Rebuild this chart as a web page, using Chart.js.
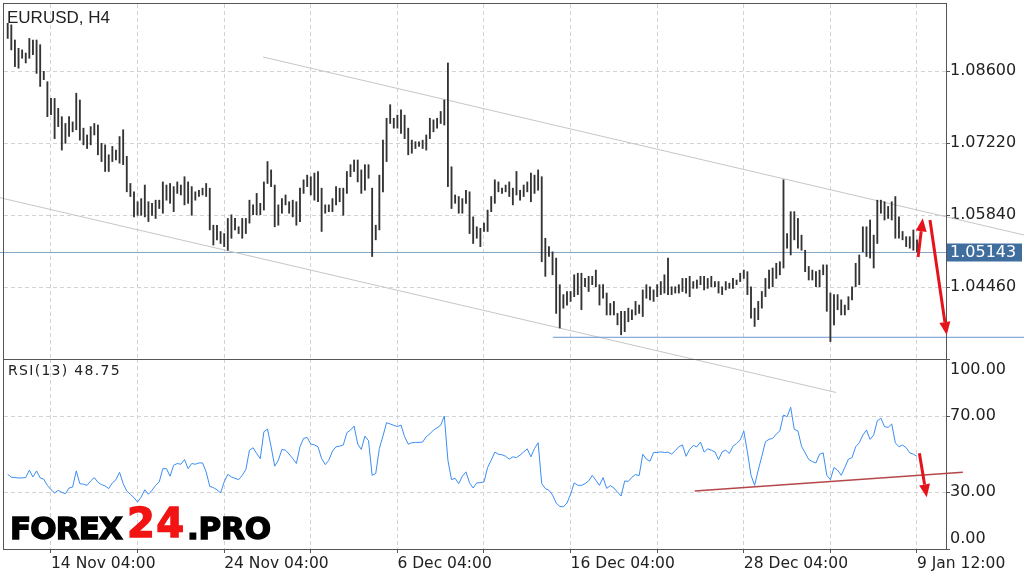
<!DOCTYPE html>
<html>
<head>
<meta charset="utf-8">
<title>EURUSD H4</title>
<script src="https://cdn.jsdelivr.net/npm/chart.js@4.4.0/dist/chart.umd.min.js"></script>
<style>
  html, body { margin: 0; padding: 0; background: #fff; }
  #wrap { position: relative; width: 1024px; height: 577px; }
  #wrap canvas { position: absolute; left: 0; top: 0; }
</style>
</head>
<body>
<div id="wrap">
  <canvas id="rsiChart" width="1024" height="577"></canvas>
  <canvas id="priceChart" width="1024" height="577"></canvas>
</div>
<script>
// H4 bars, index 0 = first bar on screen, 252 = 9 Jan 12:00
const highs = [
  1.0952, 1.0949, 1.0920, 1.0904, 1.0901, 1.0895, 1.0923, 1.0920, 1.0920, 1.0911,
  1.0860, 1.0840, 1.0808, 1.0808, 1.0789, 1.0773, 1.0760, 1.0773, 1.0763, 1.0818,
  1.0805, 1.0751, 1.0738, 1.0754, 1.0760, 1.0757, 1.0722, 1.0719, 1.0700, 1.0716,
  1.0709, 1.0735, 1.0748, 1.0697, 1.0645, 1.0629, 1.0610, 1.0616, 1.0642, 1.0610,
  1.0607, 1.0613, 1.0613, 1.0648, 1.0642, 1.0645, 1.0639, 1.0648, 1.0642, 1.0658,
  1.0648, 1.0639, 1.0629, 1.0632, 1.0636, 1.0645, 1.0636, 1.0565, 1.0565, 1.0553,
  1.0549, 1.0578, 1.0585, 1.0578, 1.0562, 1.0578, 1.0578, 1.0613, 1.0604, 1.0626,
  1.0607, 1.0648, 1.0687, 1.0671, 1.0642, 1.0604, 1.0616, 1.0623, 1.0610, 1.0613,
  1.0610, 1.0636, 1.0652, 1.0661, 1.0658, 1.0665, 1.0668, 1.0636, 1.0604, 1.0604,
  1.0616, 1.0639, 1.0636, 1.0636, 1.0668, 1.0681, 1.0690, 1.0690, 1.0671, 1.0681,
  1.0681, 1.0636, 1.0565, 1.0661, 1.0728, 1.0770, 1.0796, 1.0770, 1.0776, 1.0786,
  1.0776, 1.0751, 1.0728, 1.0725, 1.0725, 1.0728, 1.0738, 1.0770, 1.0767, 1.0770,
  1.0783, 1.0805, 1.0876, 1.0677, 1.0623, 1.0620, 1.0616, 1.0632, 1.0629, 1.0581,
  1.0562, 1.0559, 1.0569, 1.0594, 1.0620, 1.0652, 1.0648, 1.0636, 1.0642, 1.0648,
  1.0636, 1.0668, 1.0632, 1.0642, 1.0648, 1.0665, 1.0661, 1.0671, 1.0658, 1.0540,
  1.0524, 1.0514, 1.0502, 1.0451, 1.0432, 1.0438, 1.0438, 1.0470, 1.0473, 1.0473,
  1.0463, 1.0467, 1.0467, 1.0479, 1.0451, 1.0451, 1.0435, 1.0415, 1.0419, 1.0396,
  1.0400, 1.0400, 1.0406, 1.0403, 1.0419, 1.0412, 1.0441, 1.0451, 1.0447, 1.0441,
  1.0451, 1.0457, 1.0470, 1.0502, 1.0447, 1.0447, 1.0451, 1.0463, 1.0463, 1.0467,
  1.0457, 1.0460, 1.0467, 1.0467, 1.0463, 1.0467, 1.0457, 1.0457, 1.0447, 1.0457,
  1.0454, 1.0463, 1.0460, 1.0473, 1.0479, 1.0476, 1.0447, 1.0406, 1.0419, 1.0438,
  1.0463, 1.0479, 1.0483, 1.0492, 1.0495, 1.0652, 1.0549, 1.0591, 1.0591, 1.0578,
  1.0546, 1.0517, 1.0486, 1.0479, 1.0476, 1.0479, 1.0489, 1.0489, 1.0435, 1.0432,
  1.0432, 1.0422, 1.0412, 1.0428, 1.0447, 1.0492, 1.0508, 1.0562, 1.0562, 1.0575,
  1.0546, 1.0613, 1.0613, 1.0610, 1.0601, 1.0610, 1.0620, 1.0581, 1.0553, 1.0543,
  1.0543, 1.0556, 1.0537
];
const lows = [
  1.0923, 1.0901, 1.0869, 1.0866, 1.0885, 1.0876, 1.0885, 1.0892, 1.0856, 1.0831,
  1.0844, 1.0773, 1.0777, 1.0731, 1.0754, 1.0709, 1.0722, 1.0735, 1.0744, 1.0748,
  1.0728, 1.0719, 1.0712, 1.0719, 1.0738, 1.0700, 1.0687, 1.0668, 1.0668, 1.0687,
  1.0690, 1.0684, 1.0681, 1.0629, 1.0620, 1.0581, 1.0584, 1.0584, 1.0581, 1.0572,
  1.0584, 1.0578, 1.0597, 1.0588, 1.0613, 1.0607, 1.0591, 1.0626, 1.0623, 1.0604,
  1.0607, 1.0584, 1.0613, 1.0620, 1.0623, 1.0620, 1.0556, 1.0527, 1.0537, 1.0530,
  1.0524, 1.0517, 1.0540, 1.0556, 1.0549, 1.0540, 1.0549, 1.0569, 1.0585, 1.0585,
  1.0585, 1.0594, 1.0645, 1.0639, 1.0562, 1.0565, 1.0588, 1.0604, 1.0588, 1.0581,
  1.0565, 1.0572, 1.0626, 1.0639, 1.0623, 1.0613, 1.0610, 1.0553, 1.0588, 1.0591,
  1.0591, 1.0604, 1.0610, 1.0584, 1.0626, 1.0658, 1.0668, 1.0648, 1.0626, 1.0632,
  1.0655, 1.0505, 1.0537, 1.0556, 1.0629, 1.0687, 1.0760, 1.0751, 1.0751, 1.0741,
  1.0731, 1.0700, 1.0703, 1.0712, 1.0716, 1.0712, 1.0709, 1.0731, 1.0744, 1.0751,
  1.0760, 1.0757, 1.0639, 1.0597, 1.0607, 1.0588, 1.0588, 1.0607, 1.0549, 1.0530,
  1.0540, 1.0524, 1.0553, 1.0553, 1.0591, 1.0607, 1.0629, 1.0626, 1.0629, 1.0620,
  1.0604, 1.0623, 1.0613, 1.0620, 1.0629, 1.0610, 1.0626, 1.0632, 1.0495, 1.0467,
  1.0505, 1.0470, 1.0396, 1.0368, 1.0406, 1.0412, 1.0419, 1.0428, 1.0432, 1.0403,
  1.0447, 1.0438, 1.0451, 1.0447, 1.0412, 1.0425, 1.0393, 1.0393, 1.0393, 1.0374,
  1.0355, 1.0361, 1.0380, 1.0384, 1.0393, 1.0396, 1.0390, 1.0425, 1.0422, 1.0419,
  1.0428, 1.0432, 1.0435, 1.0432, 1.0432, 1.0435, 1.0435, 1.0438, 1.0435, 1.0428,
  1.0444, 1.0444, 1.0451, 1.0441, 1.0444, 1.0447, 1.0447, 1.0435, 1.0432, 1.0441,
  1.0444, 1.0444, 1.0451, 1.0457, 1.0463, 1.0432, 1.0387, 1.0371, 1.0384, 1.0406,
  1.0428, 1.0444, 1.0447, 1.0463, 1.0470, 1.0483, 1.0521, 1.0508, 1.0537, 1.0521,
  1.0517, 1.0476, 1.0460, 1.0460, 1.0447, 1.0447, 1.0470, 1.0400, 1.0342, 1.0374,
  1.0403, 1.0393, 1.0393, 1.0403, 1.0422, 1.0447, 1.0451, 1.0514, 1.0505, 1.0502,
  1.0483, 1.0530, 1.0588, 1.0575, 1.0578, 1.0575, 1.0540, 1.0540, 1.0537, 1.0524,
  1.0521, 1.0517, 1.0514
];
// RSI(13), one value per bar
const rsi = [
  39.3, 37.8, 37.6, 37.4, 37.4, 37.6, 41.5, 37.9, 41.1, 37.4,
  36.7, 33.5, 31.2, 29.5, 30.9, 29.8, 29.1, 32.1, 32.6, 41.1,
  34.4, 34.1, 33.5, 35.8, 37.6, 35.1, 33.9, 33.2, 31.8, 34.8,
  36.5, 40.4, 34.4, 30.5, 28.8, 27.0, 24.7, 27.4, 31.2, 28.8,
  30.9, 33.5, 35.3, 42.3, 42.3, 38.3, 44.1, 45.0, 44.6, 47.1,
  42.3, 45.0, 44.6, 45.3, 45.3, 40.6, 33.0, 32.3, 31.2, 29.5,
  35.3, 39.3, 37.9, 37.2, 36.5, 38.8, 41.8, 52.0, 53.3, 50.3,
  47.6, 61.7, 63.1, 53.8, 43.6, 46.7, 52.4, 52.0, 49.9, 47.6,
  45.0, 53.8, 58.2, 58.7, 55.2, 54.8, 53.8, 47.6, 44.4, 46.7,
  51.5, 53.8, 54.1, 54.7, 61.2, 62.6, 64.7, 55.2, 52.4, 59.4,
  57.0, 38.8, 39.7, 52.9, 59.4, 66.5, 65.8, 65.1, 64.4, 65.2,
  59.1, 55.2, 55.9, 56.1, 56.1, 56.3, 59.1, 60.6, 62.6, 63.8,
  65.1, 70.0, 46.7, 36.5, 37.2, 34.4, 38.3, 40.6, 34.8, 32.1,
  34.8, 34.9, 35.3, 42.9, 46.7, 51.0, 49.9, 49.6, 48.8, 47.3,
  48.5, 48.1, 49.4, 51.1, 52.7, 48.5, 52.9, 55.9, 34.4, 31.8,
  30.9, 28.4, 24.2, 22.4, 22.2, 24.2, 28.8, 34.8, 33.5, 33.5,
  34.4, 35.8, 38.8, 36.2, 33.5, 37.6, 31.9, 33.4, 32.1, 30.0,
  27.9, 35.8, 35.6, 37.8, 39.2, 38.6, 49.9, 47.3, 46.2, 50.8,
  50.8, 51.1, 50.8, 51.0, 49.9, 51.8, 53.8, 54.8, 48.8, 52.4,
  54.5, 53.8, 56.3, 51.0, 52.7, 52.0, 51.1, 47.1, 51.1, 52.0,
  50.3, 54.1, 55.5, 57.3, 62.1, 51.1, 38.8, 33.5, 41.5, 48.8,
  56.5, 57.7, 58.2, 60.5, 62.2, 70.5, 69.6, 74.6, 62.9, 62.2,
  54.1, 50.6, 47.1, 46.0, 45.3, 49.9, 50.6, 38.8, 36.5, 42.9,
  41.5, 38.8, 42.9, 47.3, 48.1, 53.8, 55.9, 60.0, 62.6, 57.7,
  60.0, 67.5, 68.8, 64.4, 64.0, 65.8, 55.9, 53.8, 54.7, 53.3,
  50.6, 49.9, 48.75
];

const gridBars = [12, 36, 60, 84, 108, 132, 156, 180, 204, 228, 252];
const timeBars = [12, 60, 108, 156, 204, 252];
const timeLabels = ['14 Nov 04:00', '24 Nov 04:00', '6 Dec 04:00', '16 Dec 04:00', '28 Dec 04:00', '9 Jan 12:00'];
const priceTicks = [1.0446, 1.0584, 1.0722, 1.0860];
const rsiTicks = [0, 30, 70, 100];
const lastPrice = 1.05143;

// drawn objects, [bar index, value]
const upperChannel = [[70.76, 1.08874], [281.7, 1.05462]];
const lowerChannel = [[-2.13, 1.06177], [229.6, 1.02444]];
const supportLine = [[151.1, 1.03502], [281.7, 1.03502]];
const priceArrows = [
  [[252.3, 1.05041], [253.6, 1.05782]],
  [[255.6, 1.05750], [260.25, 1.03546]]
];
const rsiTrend = [[190.4, 30.5], [264.7, 40.4]];
const rsiArrow = [[252.66, 50.4], [254.7, 27.2]];

Chart.defaults.font.family = 'DejaVu Sans';
Chart.defaults.color = '#222';

const GRID = '#d3d3d3';
const FRAME = '#555';

function xAxis(showLabels) {
  return {
    type: 'linear',
    min: -1.025,
    max: 260.04,
    offset: false,
    afterBuildTicks: s => { s.ticks = gridBars.map(v => ({ value: v })); },
    afterFit: s => { s.height = showLabels ? 28 : 0; s.paddingLeft = 0; s.paddingRight = 0; },
    grid: { color: GRID, offset: false, drawTicks: showLabels, tickLength: 4, tickColor: FRAME, tickBorderDash: [] },
    border: { display: false, dash: [4, 3] },
    ticks: {
      display: showLabels,
      autoSkip: false,
      maxRotation: 0,
      align: 'start',
      padding: 2,
      color: '#222',
      font: { family: 'DejaVu Sans', size: 15.5 },
      callback: v => {
        const i = timeBars.indexOf(v);
        return i < 0 ? '' : timeLabels[i];
      }
    }
  };
}

function seg(ctx, x, y, p) {
  ctx.beginPath();
  ctx.moveTo(x.getPixelForValue(p[0][0]), y.getPixelForValue(p[0][1]));
  ctx.lineTo(x.getPixelForValue(p[1][0]), y.getPixelForValue(p[1][1]));
  ctx.stroke();
}

function arrow(ctx, x, y, p) {
  const x0 = x.getPixelForValue(p[0][0]), y0 = y.getPixelForValue(p[0][1]);
  const x1 = x.getPixelForValue(p[1][0]), y1 = y.getPixelForValue(p[1][1]);
  const ang = Math.atan2(y1 - y0, x1 - x0);
  const hl = 13, hw = 5.5;
  const bx = x1 - hl * Math.cos(ang), by = y1 - hl * Math.sin(ang);
  ctx.beginPath();
  ctx.moveTo(x0, y0);
  ctx.lineTo(bx, by);
  ctx.stroke();
  ctx.beginPath();
  ctx.moveTo(x1, y1);
  ctx.lineTo(bx + hw * Math.sin(ang), by - hw * Math.cos(ang));
  ctx.lineTo(bx - hw * Math.sin(ang), by + hw * Math.cos(ang));
  ctx.closePath();
  ctx.fill();
}

// outline of a panel; the panels share the separator line
function frame(ctx, a) {
  ctx.save();
  ctx.strokeStyle = FRAME;
  ctx.lineWidth = 1;
  const l = Math.round(a.left) - 0.5, t = Math.round(a.top) + (a.top > 100 ? 0.5 : -0.5);
  const r = Math.round(a.right) + 0.5, b = Math.round(a.bottom) + 0.5;
  ctx.strokeRect(l, t, r - l, b - t);
  ctx.restore();
}

function spacedText(ctx, text, x, y, w) {
  ctx.letterSpacing = '0px';
  const m = ctx.measureText(text).width;
  ctx.letterSpacing = ((w - m) / (text.length - 1)) + 'px';
  ctx.fillText(text, x, y);
  ctx.strokeText(text, x, y);
  ctx.letterSpacing = '0px';
}

const priceDecor = {
  id: 'priceDecor',
  beforeDatasetsDraw(chart) {
    const { ctx, chartArea: a, scales: { x, y } } = chart;
    ctx.save();
    ctx.lineWidth = 1;
    const yl = Math.round(y.getPixelForValue(lastPrice)) + 0.5;
    ctx.strokeStyle = '#86a6c6';
    ctx.beginPath();
    ctx.moveTo(0, yl);
    ctx.lineTo(a.right, yl);
    ctx.stroke();
    ctx.strokeStyle = '#c6c6c6';
    seg(ctx, x, y, upperChannel);
    seg(ctx, x, y, lowerChannel);
    ctx.strokeStyle = '#6b98d4';
    seg(ctx, x, y, supportLine);
    ctx.restore();
  },
  afterDraw(chart) {
    const { ctx, chartArea: a, scales: { x, y } } = chart;
    frame(ctx, a);
    ctx.save();
    // current price tag
    const yl = Math.round(y.getPixelForValue(lastPrice)) + 0.5;
    ctx.fillStyle = '#3f6e9e';
    ctx.fillRect(Math.round(a.right) + 1, yl - 9, 75, 18);
    ctx.fillStyle = '#fff';
    ctx.font = '16px "DejaVu Sans"';
    ctx.textBaseline = 'middle';
    ctx.fillText(lastPrice.toFixed(5), Math.round(a.right) + 4, yl);
    // arrows
    ctx.strokeStyle = '#e5141c';
    ctx.fillStyle = '#e5141c';
    ctx.lineWidth = 3;
    priceArrows.forEach(p => arrow(ctx, x, y, p));
    // title
    ctx.fillStyle = '#222';
    ctx.font = '17px "Liberation Sans"';
    ctx.textBaseline = 'alphabetic';
    ctx.fillText('EURUSD, H4', 7, 23);
    ctx.restore();
  }
};

const rsiDecor = {
  id: 'rsiDecor',
  beforeDraw(chart) {
    const ctx = chart.ctx;
    ctx.save();
    ctx.fillStyle = '#fff';
    ctx.fillRect(0, 0, chart.width, chart.height);
    ctx.restore();
  },
  afterDraw(chart) {
    const { ctx, chartArea: a, scales: { x, y } } = chart;
    frame(ctx, a);
    ctx.save();
    ctx.fillStyle = '#222';
    ctx.font = '16px "DejaVu Sans"';
    ctx.textBaseline = 'middle';
    ctx.fillText((100).toFixed(2), a.right + 4, y.getPixelForValue(100) + 11);
    ctx.fillText((0).toFixed(2), a.right + 4, y.getPixelForValue(0) - 10);
    ctx.textBaseline = 'alphabetic';
    ctx.font = '14px "DejaVu Sans"';
    ctx.letterSpacing = '1.3px';
    ctx.fillText('RSI(13) ' + rsi[rsi.length - 1].toFixed(2), 8, a.top + 16);
    ctx.letterSpacing = '0px';
    // trend line and arrow
    ctx.strokeStyle = '#b4474a';
    ctx.lineWidth = 1.5;
    seg(ctx, x, y, rsiTrend);
    ctx.strokeStyle = '#e5141c';
    ctx.fillStyle = '#e5141c';
    ctx.lineWidth = 3;
    arrow(ctx, x, y, rsiArrow);
    // watermark
    ctx.lineWidth = 1.4;
    ctx.fillStyle = '#000';
    ctx.strokeStyle = '#000';
    ctx.font = 'bold 31px "DejaVu Sans"';
    spacedText(ctx, 'FOREX', 10, 539, 113);
    spacedText(ctx, '.PRO', 187, 539, 84);
    ctx.fillStyle = '#f21313';
    ctx.strokeStyle = '#f21313';
    ctx.font = 'bold 40px "DejaVu Sans"';
    spacedText(ctx, '24', 127, 537, 57);
    ctx.restore();
  }
};

new Chart(document.getElementById('rsiChart'), {
  type: 'line',
  data: {
    datasets: [{
      data: rsi.map((v, i) => ({ x: i, y: v })),
      borderColor: '#3b8ef3',
      borderWidth: 1,
      pointRadius: 0,
      tension: 0
    }]
  },
  options: {
    responsive: false,
    animation: false,
    layout: { padding: { top: 359, left: 4, right: 0, bottom: 0 } },
    plugins: { legend: { display: false }, tooltip: { enabled: false } },
    scales: {
      x: xAxis(true),
      y: {
        position: 'right',
        min: 0,
        max: 100,
        afterBuildTicks: s => { s.ticks = rsiTicks.map(v => ({ value: v })); },
        afterFit: s => { s.width = 78; s.paddingTop = 0; s.paddingBottom = 0; },
        grid: {
          color: c => (c.tick && (c.tick.value === 30 || c.tick.value === 70)) ? GRID : 'rgba(0,0,0,0)',
          tickLength: 4, tickColor: FRAME, tickBorderDash: []
        },
        border: { display: false, dash: [4, 3] },
        ticks: {
          padding: 0,
          font: { size: 16 },
          callback: v => (v === 30 || v === 70) ? v.toFixed(2) : ''
        }
      }
    }
  },
  plugins: [rsiDecor]
});

new Chart(document.getElementById('priceChart'), {
  type: 'bar',
  data: {
    datasets: [{
      data: lows.map((lo, i) => ({ x: i, y: [lo, highs[i]] })),
      backgroundColor: '#333',
      borderWidth: 0,
      barThickness: 1.2
    }]
  },
  options: {
    responsive: false,
    animation: false,
    layout: { padding: { top: 4, left: 4, right: 0, bottom: 218 } },
    plugins: { legend: { display: false }, tooltip: { enabled: false } },
    scales: {
      x: xAxis(false),
      y: {
        position: 'right',
        min: 1.03086,
        max: 1.09890,
        afterBuildTicks: s => { s.ticks = priceTicks.map(v => ({ value: v })); },
        afterFit: s => { s.width = 78; s.paddingTop = 0; s.paddingBottom = 0; },
        grid: { color: GRID, tickLength: 4, tickColor: FRAME, tickBorderDash: [] },
        border: { display: false, dash: [4, 3] },
        ticks: { padding: 0, font: { size: 16 }, callback: v => v.toFixed(5) }
      }
    }
  },
  plugins: [priceDecor]
});
</script>
</body>
</html>
